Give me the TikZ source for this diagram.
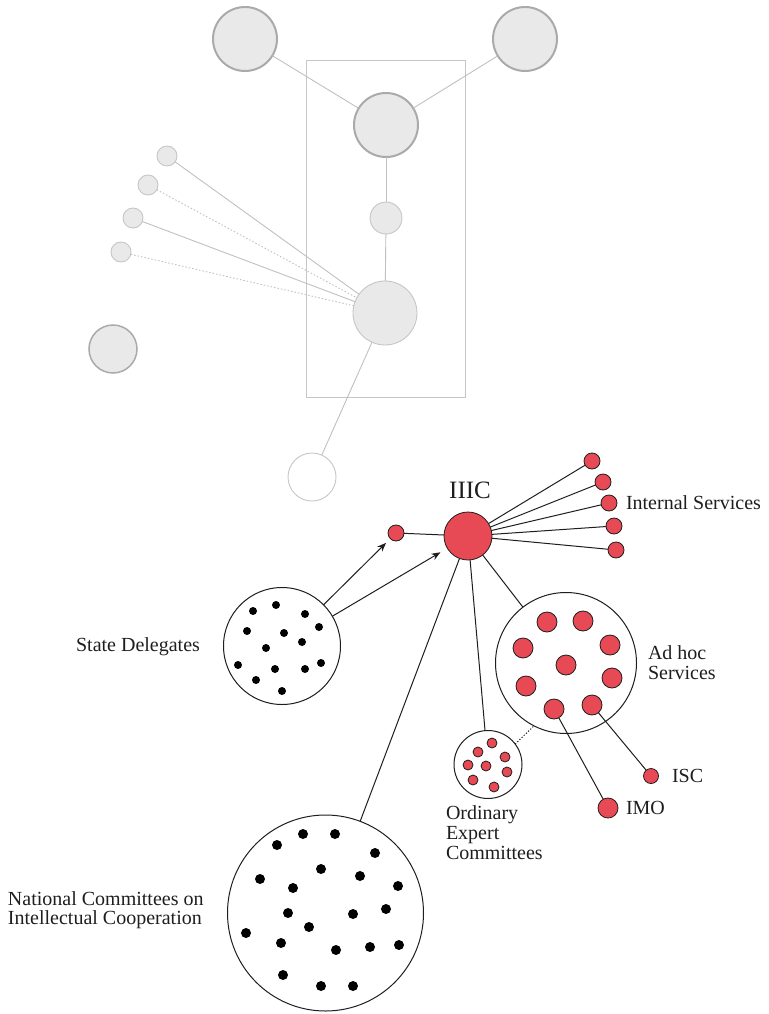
\documentclass[tikz,border=0pt]{standalone}
\usepackage{fontspec}
\setmainfont{Liberation Serif}
\usetikzlibrary{arrows.meta}
\definecolor{redfill}{RGB}{232,74,85}
\definecolor{gfill}{RGB}{233,233,233}
\definecolor{gthick}{RGB}{170,170,170}
\definecolor{gthinc}{RGB}{198,198,198}
\definecolor{gline}{RGB}{192,192,192}
\definecolor{ink}{RGB}{30,30,30}
\begin{document}
\begin{tikzpicture}[x=1pt,y=-1pt,
 every node/.style={inner sep=0pt, outer sep=0pt},
 gbig/.style={circle, draw=gthick, line width=2pt, fill=gfill, minimum size=#1},
 gsmall/.style={circle, draw=gthinc, line width=0.9pt, fill=gfill, minimum size=#1},
 gwhite/.style={circle, draw=gthinc, line width=0.9pt, fill=white, minimum size=#1},
 rcirc/.style={circle, draw=ink, line width=0.8pt, fill=redfill, minimum size=#1},
 grp/.style={circle, draw=ink, line width=1pt, fill=white, minimum size=#1},
 gconn/.style={draw=gline, line width=0.9pt},
 gdots/.style={draw=gline, line width=0.9pt, dash pattern=on 1.5pt off 2pt},
 conn/.style={draw=ink, line width=1pt},
 arr/.style={draw=ink, line width=1pt, -{Stealth[length=9pt,width=7pt]}},
 lbl/.style={font=\fontsize{20}{20}\selectfont, align=left, text=ink},
 bdot/.style={fill=black},
]
\useasboundingbox (0,0) rectangle (768,1014);

% ---------- grey upper part ----------
\draw[draw=gthinc, line width=1pt] (306,61) rectangle (465,397);
\node[gbig=64pt] (A) at (245,39) {};
\node[gbig=64pt] (B) at (525,39) {};
\node[gbig=64pt] (C) at (386,125) {};
\node[gsmall=32pt] (D) at (386,218) {};
\node[gsmall=64pt] (E) at (385,313) {};
\node[gsmall=20pt] (s1) at (167,156) {};
\node[gsmall=20pt] (s2) at (148,185) {};
\node[gsmall=20pt] (s3) at (133,218) {};
\node[gsmall=20pt] (s4) at (121,252) {};
\node[gbig=48pt, line width=1.5pt] (F) at (113,349) {};
\node[gwhite=48pt] (G) at (312,477) {};

\draw[gconn] (A) -- (C);
\draw[gconn] (B) -- (C);
\draw[gconn] (C) -- (D);
\draw[gconn] (D) -- (E);
\draw[gconn] (s1) -- (E);
\draw[gdots] (s2) -- (E);
\draw[gconn] (s3) -- (E);
\draw[gdots] (s4) -- (E);
\draw[gconn] (E) -- (G);

% ---------- red lower part ----------
\node[rcirc=48pt] (iiic) at (468,536) {};
\node[font=\fontsize{25}{25}\selectfont, text=ink] (iiiclbl) at (470,490) {IIIC};
\node[rcirc=16pt] (sr) at (396,533) {};
\node[rcirc=16pt] (is1) at (592,461) {};
\node[rcirc=16pt] (is2) at (603,482) {};
\node[rcirc=16pt] (is3) at (609,503) {};
\node[rcirc=16pt] (is4) at (614,526) {};
\node[rcirc=16pt] (is5) at (616,550) {};
\node[lbl, anchor=west] (islbl) at (626,503) {Internal Services};

\node[grp=117pt] (sd) at (282,646) {};
\node[lbl] (sdlbl) at (138,647) {State Delegates};
\foreach \x/\y in {253/611,276/605,305/614,319/627,247/631,284/633,302/642,266/648,238/665,275/669,305/669,321/663,256/680,282/691}
  \fill[bdot] (\x,\y) circle (4pt);

\node[grp=141pt] (adhoc) at (566,663) {};
\node[lbl, anchor=west] (adhoclbl) at (648,662.5) {Ad hoc\\[-0.5pt]Services};
\node[rcirc=20pt] (ah1) at (547,622) {};
\node[rcirc=20pt] (ah2) at (583,621) {};
\node[rcirc=20pt] (ah3) at (523,648) {};
\node[rcirc=20pt] (ah4) at (610,645) {};
\node[rcirc=20pt] (ah5) at (566,665) {};
\node[rcirc=20pt] (ah6) at (612,678) {};
\node[rcirc=20pt] (ah7) at (526,686) {};
\node[rcirc=20pt] (ah8) at (592,705) {};
\node[rcirc=20pt] (ah9) at (554,709) {};

\node[rcirc=15pt] (isc) at (651,776) {};
\node[lbl, anchor=west] (isclbl) at (672,776) {ISC};
\node[rcirc=20pt] (imo) at (608,808) {};
\node[lbl, anchor=west] (imolbl) at (626,808) {IMO};

\node[grp=68pt] (oec) at (488,764.5) {};
\node[lbl, anchor=west] (oeclbl) at (446,833) {Ordinary\\Expert\\Committees};
\node[rcirc=10pt] (o1) at (492,743) {};
\node[rcirc=10pt] (o2) at (478,752) {};
\node[rcirc=10pt] (o3) at (505,757) {};
\node[rcirc=10pt] (o4) at (468,765) {};
\node[rcirc=10pt] (o5) at (486,766) {};
\node[rcirc=10pt] (o6) at (507,772) {};
\node[rcirc=10pt] (o7) at (473,780) {};
\node[rcirc=10pt] (o8) at (494,787) {};

\node[grp=196pt] (nc) at (325.5,913) {};
\node[lbl, anchor=west] (nclbl) at (8,910) {National Committees on\\[-1pt]Intellectual Cooperation};
\foreach \x/\y in {303/834,335/834,277/845,375/853,321/869,360/876,260/879,293/888,398/886,386/909,288/913,353/914,309/927,246/933,281/943,336/950,370/947,399/945,283/975,321/986,353/986}
  \fill[bdot] (\x,\y) circle (5pt);

% connectors
\draw[conn] (iiic) -- (sr);
\foreach \k in {1,...,5} \draw[conn] (iiic) -- (is\k);
\draw[arr, shorten >=6pt] (sd) -- (sr);
\draw[arr, shorten >=8pt] (sd) -- (iiic);
\draw[conn] (iiic) -- (adhoc);
\draw[conn] (iiic) -- (oec);
\draw[conn] (iiic) -- (nc);
\draw[conn, dash pattern=on 1.2pt off 1.8pt] (oec.37) -- (adhoc.243);
\draw[conn] (ah9) -- (imo);
\draw[conn] (ah8) -- (isc);
\end{tikzpicture}
\end{document}
